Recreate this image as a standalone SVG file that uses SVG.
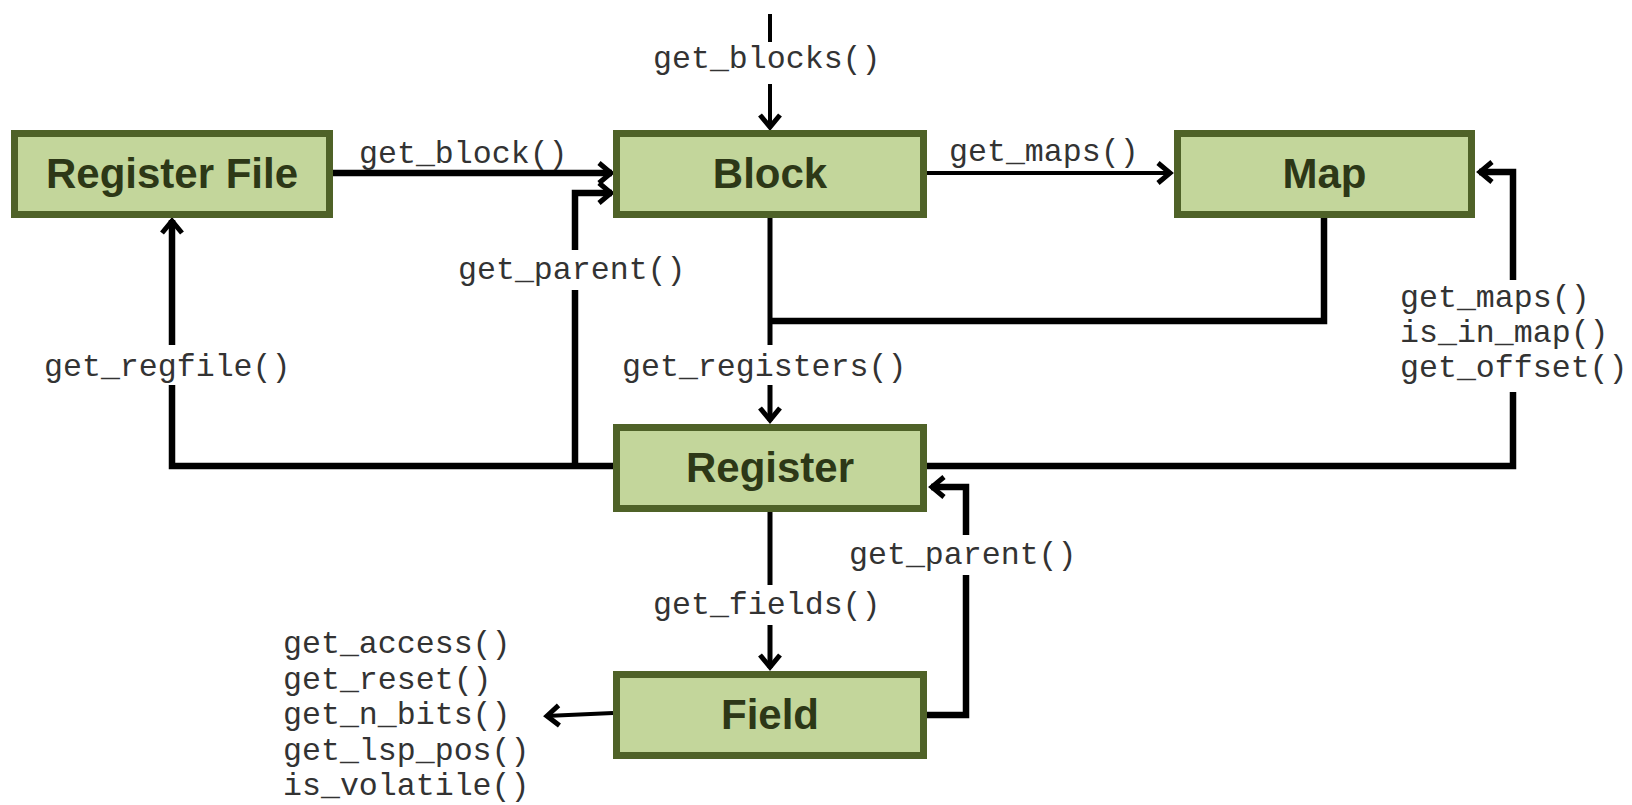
<svg xmlns="http://www.w3.org/2000/svg" width="1632" height="805" viewBox="0 0 1632 805">
  <style>
    .box { fill: #c3d69b; stroke: #4f6228; stroke-width: 7; }
    .title { font-family: "Liberation Sans", Arial, sans-serif; font-weight: bold; font-size: 42px; fill: #2d3817; text-anchor: middle; }
    .lbl { font-family: "Liberation Mono", "Courier New", monospace; font-size: 31.6px; fill: #333333; }
    .bg { fill: #ffffff; }
    .wire { fill: none; stroke: #000000; stroke-linejoin: miter; }
    .thick { stroke-width: 6.5; }
    .mid { stroke-width: 5; }
    .thin { stroke-width: 4; }
  </style>
  <defs>
    <marker id="arrow" markerUnits="userSpaceOnUse" viewBox="-16 -12 18 24" refX="0" refY="0" markerWidth="18" markerHeight="24" orient="auto" overflow="visible">
      <path d="M-13,-10 L-1,0 L-13,10" fill="none" stroke="#000000" stroke-width="5" stroke-linejoin="miter"/>
    </marker>
  </defs>

  <!-- connectors -->
  <g id="connectors">
    <!-- incoming call from above into Block -->
    <path class="wire thin" d="M770,14 V42"/>
    <path class="wire thin" d="M770,84 V128" marker-end="url(#arrow)"/>
    <!-- Register File -> Block -->
    <path class="wire thick" d="M333,173 H612" marker-end="url(#arrow)"/>
    <!-- Block -> Map -->
    <path class="wire thin" d="M927,173 H1171" marker-end="url(#arrow)"/>
    <!-- Register -> Register File -->
    <path class="wire thick" d="M613,466 H172 V220" marker-end="url(#arrow)"/>
    <!-- Register -> Block (get_parent) -->
    <path class="wire thick" d="M575,466 V193 H612" marker-end="url(#arrow)"/>
    <!-- Register -> Map -->
    <path class="wire thick" d="M927,466 H1513 V172 H1479" marker-end="url(#arrow)"/>
    <!-- Block / Map -> Register -->
    <path class="wire mid" d="M770,218 V421" marker-end="url(#arrow)"/>
    <path class="wire thick" d="M1324,218 V321 H770"/>
    <!-- Register -> Field -->
    <path class="wire mid" d="M770,512 V668" marker-end="url(#arrow)"/>
    <!-- Field -> Register (get_parent) -->
    <path class="wire thick" d="M927,715 H966 V487 H931" marker-end="url(#arrow)"/>
    <!-- Field -> attribute accessors -->
    <path class="wire thin" d="M613,713 L546,716" marker-end="url(#arrow)"/>
  </g>

  <!-- call labels -->
  <g id="labels">
    <text class="lbl" x="653" y="68">get_blocks()</text>
    <text class="lbl" x="359" y="163">get_block()</text>
    <text class="lbl" x="949" y="161">get_maps()</text>

    <rect class="bg" x="456" y="250" width="234" height="40"/>
    <text class="lbl" x="458" y="279">get_parent()</text>

    <rect class="bg" x="42" y="345" width="252" height="40"/>
    <text class="lbl" x="44" y="376">get_regfile()</text>

    <rect class="bg" x="620" y="345" width="290" height="40"/>
    <text class="lbl" x="622" y="376">get_registers()</text>

    <rect class="bg" x="1398" y="280" width="232" height="112"/>
    <text class="lbl" x="1400" y="307">get_maps()</text>
    <text class="lbl" x="1400" y="342">is_in_map()</text>
    <text class="lbl" x="1400" y="377">get_offset()</text>

    <rect class="bg" x="847" y="535" width="234" height="40"/>
    <text class="lbl" x="849" y="564">get_parent()</text>

    <rect class="bg" x="651" y="585" width="234" height="40"/>
    <text class="lbl" x="653" y="614">get_fields()</text>

    <text class="lbl" x="283" y="653">get_access()</text>
    <text class="lbl" x="283" y="688.5">get_reset()</text>
    <text class="lbl" x="283" y="724">get_n_bits()</text>
    <text class="lbl" x="283" y="759.5">get_lsp_pos()</text>
    <text class="lbl" x="283" y="795">is_volatile()</text>
  </g>

  <!-- nodes -->
  <g id="register-file">
    <rect class="box" x="14.5" y="133.5" width="315" height="81"/>
    <text class="title" x="172" y="188">Register File</text>
  </g>
  <g id="block">
    <rect class="box" x="616.5" y="133.5" width="307" height="81"/>
    <text class="title" x="770" y="188">Block</text>
  </g>
  <g id="map">
    <rect class="box" x="1177.5" y="133.5" width="294" height="81"/>
    <text class="title" x="1324.5" y="188">Map</text>
  </g>
  <g id="register">
    <rect class="box" x="616.5" y="427.5" width="307" height="81"/>
    <text class="title" x="770" y="482">Register</text>
  </g>
  <g id="field">
    <rect class="box" x="616.5" y="674.5" width="307" height="81"/>
    <text class="title" x="770" y="729">Field</text>
  </g>
</svg>
